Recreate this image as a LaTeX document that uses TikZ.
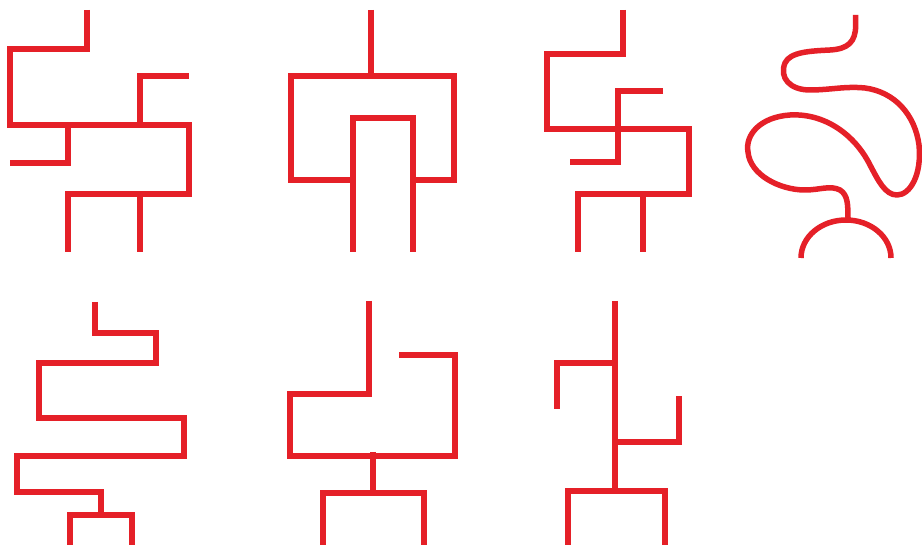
\documentclass[tikz,border=0pt]{standalone}
\definecolor{pipe}{RGB}{229,32,40}
\begin{document}
\begin{tikzpicture}[x=1pt,y=-1pt,
  pipeline/.style={draw=pipe,line width=5.5pt,line join=miter,line cap=butt}]
\useasboundingbox[fill=white] (0,0) rectangle (922,545);
% panel 1
\draw[pipeline] (87,10) -- (87,49) -- (10,49) -- (10,125) -- (189,125) -- (189,194) -- (68,194) -- (68,252);
\draw[pipeline] (140,125) -- (140,76) -- (189,76);
\draw[pipeline] (68,125) -- (68,163) -- (10,163);
\draw[pipeline] (140,194) -- (140,252);
% panel 2
\draw[pipeline] (371,10) -- (371,76);
\draw[pipeline] (353,180) -- (291,180) -- (291,76) -- (454,76) -- (454,180) -- (413,180);
\draw[pipeline] (353,252) -- (353,118) -- (413,118) -- (413,252);
% panel 3
\draw[pipeline] (623,10) -- (623,54) -- (547,54) -- (547,129) -- (689,129) -- (689,194) -- (578,194) -- (578,252);
\draw[pipeline] (663,91) -- (618,91) -- (618,162) -- (570,162);
\draw[pipeline] (643,194) -- (643,252);
% panel 4
\draw[pipeline,line join=round] (855.7,15) -- (855.7,25)
  .. controls (855.7,42) and (848,49) .. (830,50)
  .. controls (810,51) and (790,52) .. (785,63)
  .. controls (779,78) and (790,90) .. (810,90)
  .. controls (830,90) and (845,86) .. (865,88)
  .. controls (895,92) and (915,115) .. (919,145)
  .. controls (922,175) and (910,195) .. (897,195)
  .. controls (885,195) and (878,180) .. (870,165)
  .. controls (855,135) and (825,113) .. (790,115)
  .. controls (760,117) and (745,135) .. (748,152)
  .. controls (750,175) and (780,190) .. (805,190)
  .. controls (820,190) and (830,185) .. (840,190)
  .. controls (848,195) and (848,205) .. (848,220);
\draw[pipeline] (801,258) .. controls (801,237) and (821,220) .. (846,220)
  .. controls (871,220) and (891,237) .. (891,258);
% panel 5
\draw[pipeline] (95,302) -- (95,333) -- (156,333) -- (156,363) -- (39,363) -- (39,418) -- (184,418) -- (184,456) -- (17,456) -- (17,492) -- (101,492) -- (101,515);
\draw[pipeline] (70,545) -- (70,515) -- (132,515) -- (132,545);
% panel 6
\draw[pipeline] (369,301) -- (369,394) -- (290,394) -- (290,456) -- (455,456) -- (455,355) -- (399,355);
\draw[pipeline] (373,452) -- (373,493);
\draw[pipeline] (323,545) -- (323,493) -- (424,493) -- (424,545);
% panel 7
\draw[pipeline] (615,301) -- (615,491);
\draw[pipeline] (615,363) -- (557,363) -- (557,409);
\draw[pipeline] (615,442) -- (679,442) -- (679,396);
\draw[pipeline] (568,545) -- (568,491) -- (665,491) -- (665,545);
\end{tikzpicture}
\end{document}
